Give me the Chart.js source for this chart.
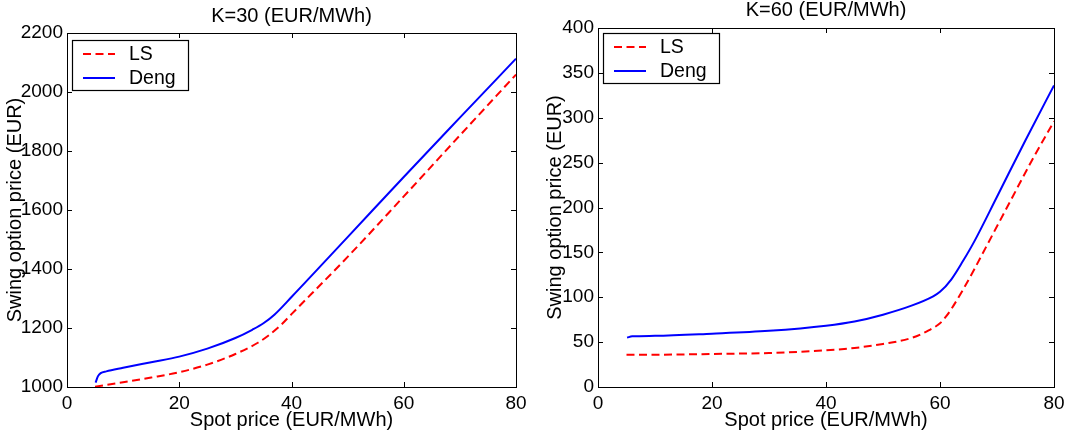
<!DOCTYPE html>
<html>
<head>
<meta charset="utf-8">
<script src="https://cdn.jsdelivr.net/npm/chart.js@4.4.0/dist/chart.umd.min.js"></script>
<style>
  html, body { margin: 0; padding: 0; background: #fff; }
  #wrap { position: relative; width: 1074px; height: 439px; }
  .panel { position: absolute; top: 0; height: 439px; }
  #p1 { left: 0; width: 540px; }
  #p2 { left: 540px; width: 534px; }
</style>
</head>
<body>
<div id="wrap">
  <div class="panel" id="p1"><canvas id="c1"></canvas></div>
  <div class="panel" id="p2"><canvas id="c2"></canvas></div>
</div>
<script>
/* ---- data ---- */

const X_TICKS = [0, 20, 40, 60, 80];

// K=30
const LS_X_K30   = [5, 10, 15, 20, 25, 30, 34, 36, 38, 40, 50, 60, 70, 80];
const LS_Y_K30   = [1001, 1016, 1032, 1050, 1076, 1112, 1150, 1176, 1208, 1247, 1441, 1646, 1853, 2059];
const DENG_X_K30 = [5.1, 5.5, 6, 7, 10, 15, 20, 25, 30, 33, 35, 37, 40, 50, 60, 70, 80];
const DENG_Y_K30 = [1015, 1036, 1047, 1053, 1065, 1084, 1103, 1130, 1166, 1194, 1216, 1246, 1305, 1508, 1712, 1913, 2113];
const Y_TICKS_K30 = [1000, 1200, 1400, 1600, 1800, 2000, 2200];

// K=60
const LS_X_K60   = [5, 10, 20, 30, 40, 45, 50, 55, 58, 60, 61, 62, 64, 66, 68, 72, 76, 80];
const LS_Y_K60   = [36, 36, 36.8, 37.9, 40.9, 43.5, 48, 54.6, 63, 71, 78, 87, 108, 131, 155, 203, 251, 296];
const DENG_X_K60 = [5.1, 6, 10, 20, 30, 40, 45, 50, 55, 58.8, 60, 62, 64, 66, 70, 75, 80];
const DENG_Y_K60 = [55, 56.5, 57, 59.4, 62.6, 68.3, 73, 80.6, 90.6, 101, 106, 120, 140, 162, 212, 275, 336];
const Y_TICKS_K60 = [0, 50, 100, 150, 200, 250, 300, 350, 400];

const FONT = '"Liberation Sans", Arial, Helvetica, sans-serif';
Chart.defaults.font.family = FONT;
Chart.defaults.color = '#000';

function pts(xs, ys) {
  return xs.map((x, i) => ({ x, y: ys[i] }));
}

// ─── box with inward ticks (matlab look) ─────────────────────────────────────
const boxPlugin = {
  id: 'boxTicks',
  afterDatasetsDraw(chart) {
    const { ctx, chartArea: a, scales } = chart;
    const tl = 5;
    ctx.save();
    ctx.strokeStyle = '#000';
    ctx.lineWidth = 1;
    ctx.strokeRect(a.left + 0.5, a.top + 0.5, a.right - a.left, a.bottom - a.top);
    ctx.beginPath();
    scales.x.ticks.forEach(t => {
      const px = Math.round(scales.x.getPixelForValue(t.value)) + 0.5;
      ctx.moveTo(px, a.bottom); ctx.lineTo(px, a.bottom - tl);
      ctx.moveTo(px, a.top);    ctx.lineTo(px, a.top + tl);
    });
    scales.y.ticks.forEach(t => {
      const py = Math.round(scales.y.getPixelForValue(t.value)) + 0.5;
      ctx.moveTo(a.left, py);  ctx.lineTo(a.left + tl, py);
      ctx.moveTo(a.right, py); ctx.lineTo(a.right - tl, py);
    });
    ctx.stroke();
    ctx.restore();
  }
};

// ─── legend inside the plot, line samples ────────────────────────────────────
const legendPlugin = {
  id: 'lineLegend',
  afterDraw(chart, args, opts) {
    const { ctx, chartArea: a } = chart;
    const x0 = a.left + 5, y0 = a.top + opts.top;
    const w = 116, h = 50;
    ctx.save();
    ctx.fillStyle = '#fff';
    ctx.fillRect(x0, y0, w, h);
    ctx.strokeStyle = '#000';
    ctx.lineWidth = 1.2;
    ctx.strokeRect(x0 + 0.5, y0 + 0.5, w, h);
    chart.data.datasets.forEach((ds, i) => {
      const ry = y0 + 14 + i * 24;
      ctx.beginPath();
      ctx.strokeStyle = ds.borderColor;
      ctx.lineWidth = 2;
      ctx.setLineDash(ds.borderDash || []);
      ctx.moveTo(x0 + 11, ry);
      ctx.lineTo(x0 + 43, ry);
      ctx.stroke();
      ctx.setLineDash([]);
      ctx.fillStyle = '#000';
      ctx.font = '19.5px ' + FONT;
      ctx.textBaseline = 'middle';
      ctx.fillText(ds.label, x0 + 57, ry + 1);
    });
    ctx.restore();
  }
};

function makeChart(id, cfg) {
  return new Chart(document.getElementById(id), {
    type: 'line',
    data: {
      datasets: [
        {
          label: 'LS',
          data: pts(cfg.lsX, cfg.lsY),
          borderColor: '#ff0000',
          borderWidth: 2,
          borderDash: [8, 4.5],
          pointRadius: 0,
          fill: false,
          cubicInterpolationMode: 'monotone'
        },
        {
          label: 'Deng',
          data: pts(cfg.dengX, cfg.dengY),
          borderColor: '#0000ff',
          borderWidth: 2,
          pointRadius: 0,
          fill: false,
          cubicInterpolationMode: 'monotone'
        }
      ]
    },
    options: {
      responsive: true,
      maintainAspectRatio: false,
      animation: false,
      layout: { padding: { left: 0, right: cfg.rightPad, top: 0, bottom: 0 } },
      plugins: {
        legend: { display: false },
        tooltip: { enabled: false },
        title: {
          display: true,
          text: cfg.title,
          fullSize: false,
          color: '#000',
          font: { size: 20, weight: 'normal', lineHeight: 1 },
          padding: cfg.titlePad
        },
        lineLegend: { top: cfg.legendTop }
      },
      scales: {
        x: {
          type: 'linear',
          min: 0, max: 80,
          afterBuildTicks: s => { s.ticks = X_TICKS.map(v => ({ value: v })); },
          afterFit: s => { s.height = 52; },
          grid: { display: false, drawTicks: false },
          border: { display: false },
          ticks: { color: '#000', font: { size: 19 }, padding: 5, maxRotation: 0, callback: v => String(v) },
          title: {
            display: true,
            text: 'Spot price (EUR/MWh)',
            color: '#000',
            font: { size: 20 },
            padding: { top: 0, bottom: 7 }
          }
        },
        y: {
          type: 'linear',
          min: cfg.yTicks[0], max: cfg.yTicks[cfg.yTicks.length - 1],
          afterBuildTicks: s => { s.ticks = cfg.yTicks.map(v => ({ value: v })); },
          afterFit: s => { s.width = cfg.yWidth; },
          grid: { display: false, drawTicks: false },
          border: { display: false },
          ticks: { color: '#000', font: { size: 19 }, padding: 4, callback: v => String(v) },
          title: {
            display: true,
            text: 'Swing option price (EUR)',
            color: '#000',
            font: { size: 20 },
            padding: { top: 3, bottom: 0 }
          }
        }
      }
    },
    plugins: [boxPlugin, legendPlugin]
  });
}

makeChart('c1', {
  title: 'K=30 (EUR/MWh)',
  lsX: LS_X_K30, lsY: LS_Y_K30, dengX: DENG_X_K30, dengY: DENG_Y_K30,
  yTicks: Y_TICKS_K30,
  yWidth: 67, rightPad: 24,
  titlePad: { top: 6, bottom: 7 },
  legendTop: 7
});

makeChart('c2', {
  title: 'K=60 (EUR/MWh)',
  lsX: LS_X_K60, lsY: LS_Y_K60, dengX: DENG_X_K60, dengY: DENG_Y_K60,
  yTicks: Y_TICKS_K60,
  yWidth: 58, rightPad: 20,
  titlePad: { top: 0, bottom: 8 },
  legendTop: 5
});
</script>
</body>
</html>
